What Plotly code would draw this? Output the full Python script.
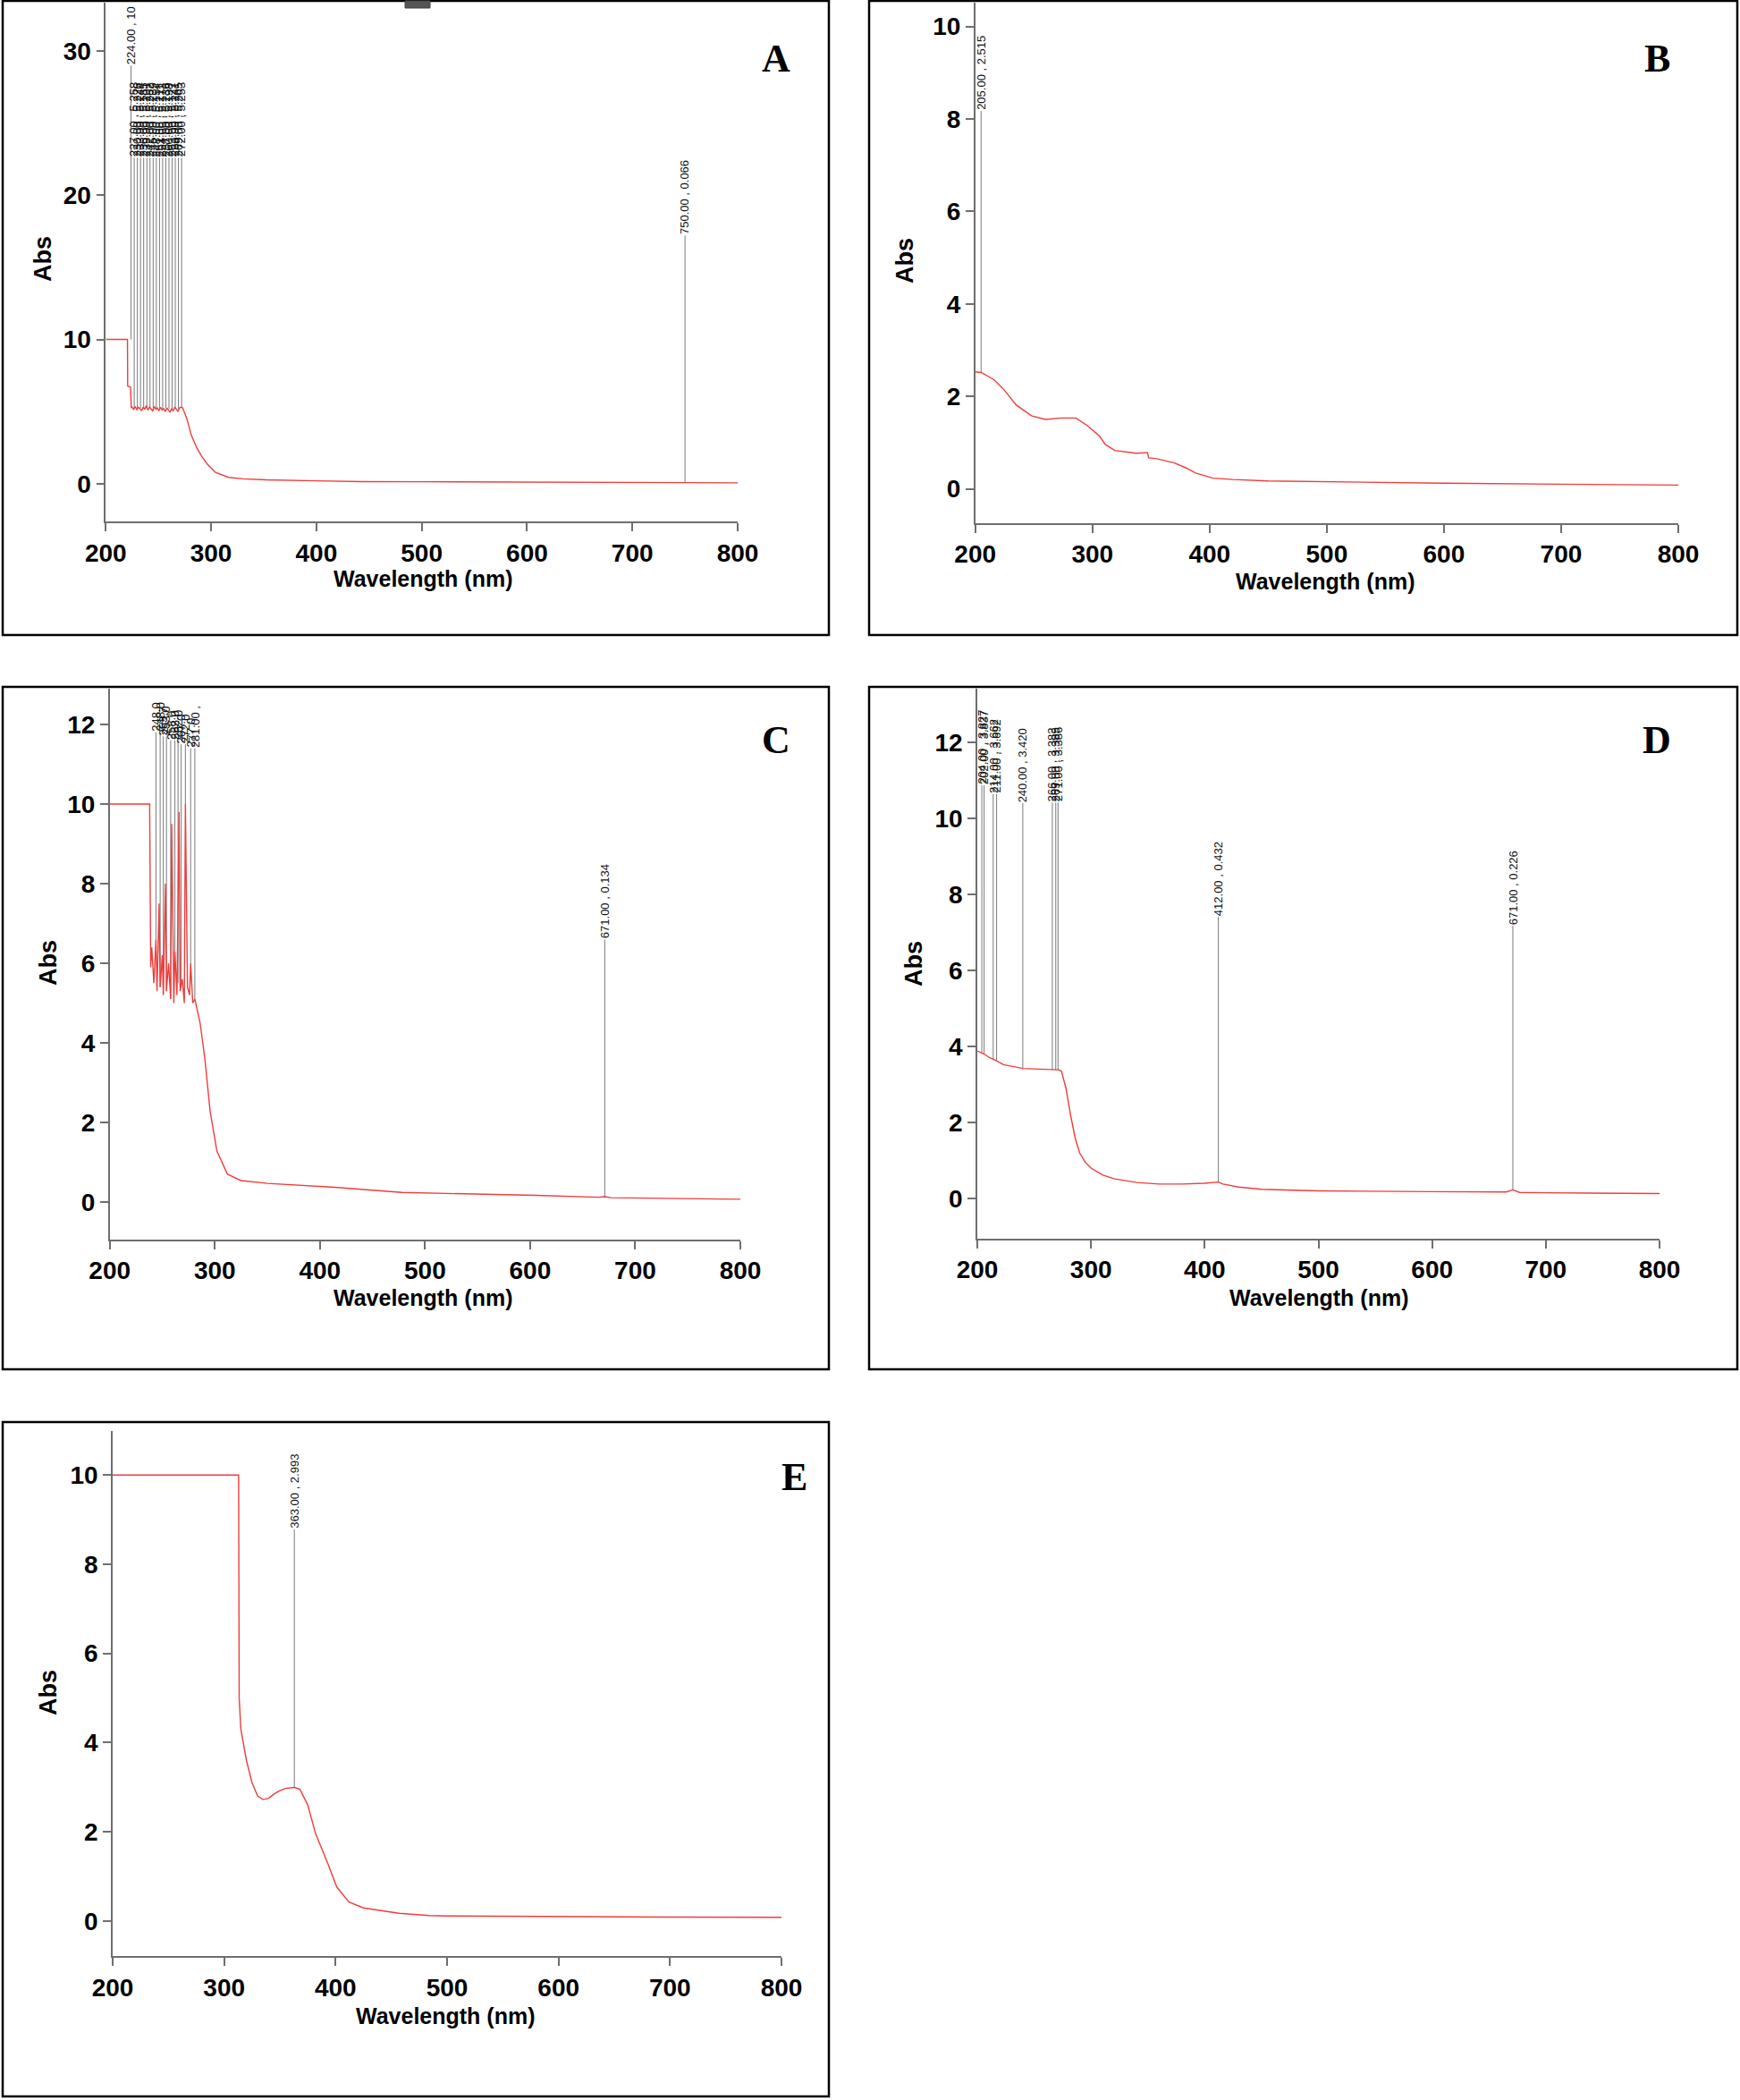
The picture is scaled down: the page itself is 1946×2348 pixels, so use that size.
import plotly.graph_objects as go

W, H = 1946, 2348

# ---------------- data ----------------
# Panel A
a_x = [200, 220.6, 220.8, 223.5, 224.2, 225, 226.5, 228, 229.5, 231, 232.5, 234, 235.5, 237, 238.5, 240, 241.5,
       243, 244.5, 246, 247.5, 249, 250.5, 252, 253.5, 255, 256.5, 258, 259.5, 261, 262.5, 264, 265.5, 267,
       268.5, 270, 271.5, 273, 277, 281.3, 286.4, 291, 296.5, 304.1, 316.7, 330, 352, 400, 443, 500, 605, 673, 750, 800]
a_y = [10, 10, 6.76, 6.7, 5.25, 5.3, 5.15, 5.35, 5.1, 5.3, 5.2, 5.05, 5.3, 5.15, 5.4, 5.1, 5.3,
       5.2, 5.05, 5.35, 5.15, 5.25, 5.05, 5.3, 5.1, 5.2, 5.0, 5.25, 5.1, 4.95, 5.2, 5.05, 5.3, 5.15,
       5.0, 5.25, 5.3, 5.25, 4.5, 3.34, 2.48, 1.9, 1.35, 0.78, 0.43, 0.33, 0.26, 0.19, 0.14, 0.13, 0.12, 0.07, 0.066, 0.05]
a_peaks_x = [224, 227, 230, 233, 236, 239, 242, 245, 248, 251, 254, 257, 260, 263, 266, 269, 272, 750]
a_peaks_y = [10.0, 5.258, 5.226, 5.244, 5.185, 5.201, 5.262, 5.239, 5.154, 5.211, 5.173, 5.236, 5.198,
             5.127, 5.241, 5.205, 5.253, 0.066]
a_peaks_top = [29.0] + [22.6] * 16 + [17.2]
a_peaks_lbl = ["224.00 , 10", "227.00 , 5.258", "230.00 , 5.226", "233.00 , 5.244", "236.00 , 5.185",
               "239.00 , 5.201", "242.00 , 5.262", "245.00 , 5.239", "248.00 , 5.154", "251.00 , 5.211",
               "254.00 , 5.173", "257.00 , 5.236", "260.00 , 5.198", "263.00 , 5.127", "266.00 , 5.241",
               "269.00 , 5.205", "272.00 , 5.253", "750.00 , 0.066"]

# Panel B
b_x = [200, 205, 216, 225, 235, 248, 260, 273, 286, 296, 306, 311, 319, 337, 347, 348, 355, 370, 380, 388,
       403, 420, 450, 500, 600, 700, 800]
b_y = [2.53, 2.515, 2.36, 2.13, 1.81, 1.58, 1.50, 1.53, 1.53, 1.36, 1.14, 0.96, 0.83, 0.77, 0.78, 0.67,
       0.65, 0.56, 0.45, 0.34, 0.23, 0.2, 0.17, 0.15, 0.12, 0.1, 0.08]
b_peaks_x = [205]
b_peaks_y = [2.515]
b_peaks_top = [8.17]
b_peaks_lbl = ["205.00 , 2.515"]

# Panel C
c_x = [200, 238, 239, 240, 242, 244, 245, 247, 248, 250, 251, 253, 254, 256, 258, 259, 261, 262, 264, 266,
       267, 269, 271, 272, 274, 276, 277, 279, 281, 282.8, 286, 290.4, 295.5, 302, 312, 325, 350, 414,
       478, 605, 665, 671, 677, 800]
c_y = [10, 10, 5.9, 6.4, 5.5, 6.6, 5.3, 7.5, 5.4, 6.2, 5.2, 8.0, 5.3, 6.0, 5.1, 9.5, 5.0, 6.3, 5.2, 9.8,
       5.3, 5.6, 5.0, 10.0, 5.4, 5.2, 6.0, 5.0, 5.1, 4.9, 4.5, 3.63, 2.29, 1.28, 0.7, 0.54, 0.47, 0.37,
       0.24, 0.17, 0.12, 0.134, 0.11, 0.07]
c_peaks_x = [244, 248, 251, 254, 258, 262, 265, 268, 272, 277, 281, 671]
c_peaks_y = [6.6, 5.4, 5.2, 5.3, 5.1, 6.3, 5.5, 5.4, 10.0, 6.0, 5.1, 0.134]
c_peaks_top = [11.8, 11.8, 11.7, 11.7, 11.6, 11.6, 11.6, 11.5, 11.5, 11.4, 11.4, 6.6]
c_peaks_lbl = ["248.0", "248.0", "253.7", "253.0", "258.0", "262.0", "262.0", "267.0", "272.0",
               "277.0", "281.00 ,", "671.00 , 0.134"]

# Panel D
d_x = [200, 204, 206, 211, 214, 217, 223, 235, 240, 250, 262, 266, 271, 274, 278, 282, 286, 290, 295,
       300, 310, 320, 340, 360, 380, 400, 412, 416, 430, 450, 500, 600, 665, 671, 677, 700, 800]
d_y = [3.88, 3.827, 3.80, 3.70, 3.662, 3.62, 3.52, 3.44, 3.42, 3.41, 3.39, 3.383, 3.386, 3.35, 2.9, 2.2,
       1.6, 1.2, 0.95, 0.8, 0.62, 0.52, 0.42, 0.38, 0.38, 0.40, 0.432, 0.38, 0.3, 0.24, 0.2, 0.18, 0.17,
       0.226, 0.16, 0.15, 0.13]
d_peaks_x = [204, 206, 214, 217, 240, 266, 269, 271, 412, 671]
d_peaks_y = [3.827, 3.80, 3.662, 3.62, 3.420, 3.383, 3.38, 3.386, 0.432, 0.226]
d_peaks_top = [10.87, 10.87, 10.64, 10.64, 10.4, 10.42, 10.42, 10.42, 7.41, 7.18]
d_peaks_lbl = ["204.00 , 3.827", "202.00 , 3.837", "214.00 , 3.662", "211.00 , 3.692", "240.00 , 3.420",
               "266.00 , 3.383", "269.00 , 3.385", "271.00 , 3.386", "412.00 , 0.432", "671.00 , 0.226"]

# Panel E
e_x = [200, 313, 313.5, 315, 320, 325, 330, 335, 340, 345, 350, 355, 363, 368, 375, 382, 393, 401, 412,
       425, 457, 484, 500, 600, 700, 800]
e_y = [10, 10, 5.0, 4.3, 3.6, 3.1, 2.8, 2.72, 2.75, 2.85, 2.92, 2.97, 2.993, 2.95, 2.6, 1.96, 1.29, 0.76,
       0.42, 0.29, 0.17, 0.12, 0.11, 0.09, 0.085, 0.08]
e_peaks_x = [363]
e_peaks_y = [2.993]
e_peaks_top = [8.78]
e_peaks_lbl = ["363.00 , 2.993"]

x_ticks = [200, 300, 400, 500, 600, 700, 800]
a_yticks = [0, 10, 20, 30]
b_yticks = [0, 2, 4, 6, 8, 10]
c_yticks = [0, 2, 4, 6, 8, 10, 12]
d_yticks = [0, 2, 4, 6, 8, 10, 12]
e_yticks = [0, 2, 4, 6, 8, 10]

letters = ["A", "B", "C", "D", "E"]

# ---------------- layout geometry (pixels) ----------------
# xl, xr, top, bottom, zero px, px per unit
geom = [
    (118.3, 825, 3, 583.3, 540.7, 16.12),
    (1090.7, 1877, 3, 585, 546.5, 51.7),
    (122.7, 828, 770, 1386, 1344, 44.5),
    (1093, 1856, 770, 1385, 1340, 42.5),
    (126, 874, 1600, 2187.3, 2147.7, 49.85),
]
boxes = [(3, 1, 927, 710), (972, 1, 1943, 710), (3, 768, 927, 1531), (972, 768, 1943, 1531),
         (3, 1590, 927, 2344)]
letter_pos = [(868, 66), (1853, 66), (868, 828), (1853, 828), (888, 1651)]
abs_pos = [(48, 290), (1012, 292), (54, 1077), (1022, 1077), (54, 1893)]
wl_pos = [(473, 647), (1482, 650), (473, 1451), (1475, 1451), (498, 2254)]

curves = [(a_x, a_y), (b_x, b_y), (c_x, c_y), (d_x, d_y), (e_x, e_y)]
peaks = [(a_peaks_x, a_peaks_y, a_peaks_top, a_peaks_lbl),
         (b_peaks_x, b_peaks_y, b_peaks_top, b_peaks_lbl),
         (c_peaks_x, c_peaks_y, c_peaks_top, c_peaks_lbl),
         (d_peaks_x, d_peaks_y, d_peaks_top, d_peaks_lbl),
         (e_peaks_x, e_peaks_y, e_peaks_top, e_peaks_lbl)]
yticks = [a_yticks, b_yticks, c_yticks, d_yticks, e_yticks]

BOLD_FAM = "Liberation Sans Narrow, Arial Narrow, Liberation Sans, Arial"
TICKFONT = dict(family=BOLD_FAM, size=28, color="black", weight="bold")
AXCOL = "#6e6e6e"

fig = go.Figure()
annotations = []
shapes = []

for i in range(5):
    xl, xr, t, b, p0, s = geom[i]
    xa = "x" if i == 0 else f"x{i+1}"
    ya = "y" if i == 0 else f"y{i+1}"
    xkey = "xaxis" if i == 0 else f"xaxis{i+1}"
    ykey = "yaxis" if i == 0 else f"yaxis{i+1}"
    yr = [(p0 - b) / s, (p0 - t) / s]
    fig.update_layout(**{
        xkey: dict(domain=[xl / W, xr / W], range=[200, 800], anchor=ya, tickvals=x_ticks,
                   showline=True, linecolor=AXCOL, linewidth=1.5, ticks="outside", ticklen=9,
                   tickcolor=AXCOL, tickwidth=1.5, showgrid=False, zeroline=False, tickfont=TICKFONT,
                   fixedrange=True, automargin=False),
        ykey: dict(domain=[1 - b / H, 1 - t / H], range=yr, anchor=xa, tickvals=yticks[i],
                   showline=True, linecolor=AXCOL, linewidth=1.5, ticks="outside", ticklen=9,
                   tickcolor=AXCOL, tickwidth=1.5, showgrid=False, zeroline=False, tickfont=TICKFONT,
                   fixedrange=True, automargin=False),
    })
    # peak marker lines
    px, py, ptop, plbl = peaks[i]
    lx, ly = [], []
    for xv, yv, tv in zip(px, py, ptop):
        lx += [xv, xv, None]
        ly += [yv, tv, None]
    fig.add_trace(go.Scatter(x=lx, y=ly, mode="lines", line=dict(color="#7a7a7a", width=1),
                             xaxis=xa, yaxis=ya, showlegend=False, hoverinfo="skip"))
    # spectrum
    cx, cy = curves[i]
    fig.add_trace(go.Scatter(x=cx, y=cy, mode="lines", line=dict(color="#f03c3c", width=1.4),
                             xaxis=xa, yaxis=ya, showlegend=False))
    for xv, tv, lb in zip(px, ptop, plbl):
        annotations.append(dict(x=xv, y=tv, xref=xa, yref=ya, text=lb, showarrow=False, textangle=-90,
                                xanchor="center", yanchor="bottom", borderpad=0,
                                font=dict(family="Liberation Sans, Arial", size=13, color="#111")))
    # box border
    bx0, by0, bx1, by1 = boxes[i]
    shapes.append(dict(type="rect", xref="paper", yref="paper", x0=bx0 / W, x1=bx1 / W,
                       y0=1 - by1 / H, y1=1 - by0 / H, line=dict(color="black", width=2.5)))
    lxp, lyp = letter_pos[i]
    annotations.append(dict(x=lxp / W, y=1 - lyp / H, xref="paper", yref="paper", text=letters[i],
                            showarrow=False, xanchor="center", yanchor="middle",
                            font=dict(family="Liberation Serif, Times New Roman", size=44, color="black",
                                      weight="bold")))
    axp, ayp = abs_pos[i]
    annotations.append(dict(x=axp / W, y=1 - ayp / H, xref="paper", yref="paper", text="Abs",
                            showarrow=False, textangle=-90, xanchor="center", yanchor="middle",
                            font=dict(family=BOLD_FAM, size=27, color="black", weight="bold")))
    wxp, wyp = wl_pos[i]
    annotations.append(dict(x=wxp / W, y=1 - wyp / H, xref="paper", yref="paper", text="Wavelength (nm)",
                            showarrow=False, xanchor="center", yanchor="middle",
                            font=dict(family=BOLD_FAM, size=25, color="black", weight="bold")))

# small handle artifact at top of panel A
shapes.append(dict(type="rect", xref="paper", yref="paper", x0=453 / W, x1=481 / W, y0=1 - 9 / H, y1=1 - 1 / H,
                   fillcolor="#555555", line=dict(color="#444444", width=1)))

fig.update_layout(width=W, height=H, margin=dict(l=0, r=0, t=0, b=0, autoexpand=False),
                  paper_bgcolor="white", plot_bgcolor="white", annotations=annotations, shapes=shapes,
                  showlegend=False)

fig.write_html("out.html", config={"displayModeBar": False},
               post_script="document.body.style.margin='0px';document.body.style.overflow='hidden';")
